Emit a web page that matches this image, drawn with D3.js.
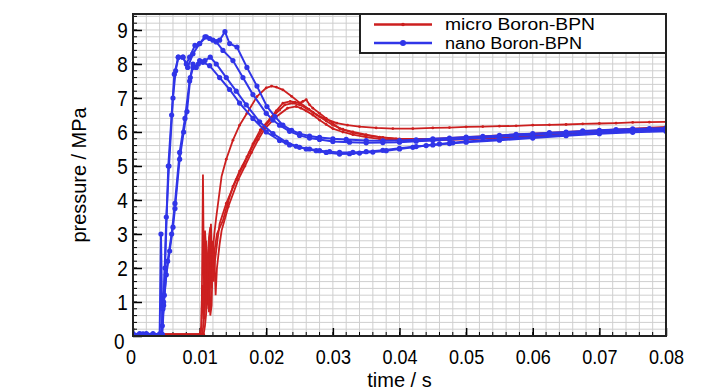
<!DOCTYPE html>
<html><head><meta charset="utf-8">
<script src="https://cdn.jsdelivr.net/npm/d3@7"></script>
<style>body{margin:0;background:#fff}svg{display:block}</style>
</head><body><div id="c"></div>
<script>
// ---- data (time in s, pressure in MPa) ----
const xTicks = [0,0.01,0.02,0.03,0.04,0.05,0.06,0.07,0.08];
const xTickLabels = ["0","0.01","0.02","0.03","0.04","0.05","0.06","0.07","0.08"];
const yTicks = [0,1,2,3,4,5,6,7,8,9];
const seriesNames = ["micro Boron-BPN","nano Boron-BPN"];

const nano1 = [[0,0.06],[0.001,0.05],[0.002,0.07],[0.003,0.05],[0.004,0.06],[0.0042,3.0],[0.0044,0.3],[0.0046,1.0],[0.005,3.5],[0.0054,5.0],[0.006,7.0],[0.0064,7.8],[0.0068,8.2],[0.0075,8.2],[0.008,8.0],[0.0085,8.2],[0.0093,8.55],[0.01,8.6],[0.011,8.8],[0.012,8.7],[0.013,8.7],[0.0138,8.95],[0.0145,8.6],[0.0156,8.5],[0.0171,7.9],[0.0186,7.35],[0.0201,6.75],[0.0213,6.45],[0.0225,6.2],[0.0238,6.05],[0.025,5.95],[0.0265,5.88],[0.028,5.84],[0.03,5.8],[0.032,5.78],[0.035,5.75],[0.0375,5.74],[0.04,5.75],[0.0425,5.77],[0.045,5.8],[0.0475,5.82],[0.05,5.85],[0.0525,5.87],[0.055,5.9],[0.0575,5.93],[0.06,5.95],[0.0625,5.98],[0.065,6.0],[0.0675,6.03],[0.07,6.05],[0.0725,6.07],[0.075,6.09],[0.0775,6.1],[0.08,6.12]];
const nano2 = [[0,0.05],[0.001,0.07],[0.002,0.05],[0.003,0.06],[0.0042,0.05],[0.0045,0.8],[0.0048,2.0],[0.0053,5.0],[0.0058,6.5],[0.0062,7.7],[0.0068,8.2],[0.0075,8.2],[0.0082,7.9],[0.009,8.3],[0.01,8.6],[0.0108,8.8],[0.0115,8.75],[0.0125,8.65],[0.0135,8.4],[0.015,8.1],[0.0165,7.6],[0.018,7.1],[0.02,6.55],[0.021,6.35],[0.022,6.2],[0.0235,6.02],[0.025,5.9],[0.0265,5.82],[0.028,5.78],[0.03,5.72],[0.0325,5.7],[0.035,5.68],[0.0375,5.69],[0.04,5.7],[0.0425,5.73],[0.045,5.75],[0.0475,5.78],[0.05,5.8],[0.0525,5.83],[0.055,5.86],[0.0575,5.89],[0.06,5.92],[0.0625,5.95],[0.065,5.97],[0.0675,6.0],[0.07,6.02],[0.0725,6.04],[0.075,6.06],[0.0775,6.07],[0.08,6.08]];
const nano3 = [[0,0.05],[0.0015,0.06],[0.003,0.05],[0.0043,0.05],[0.0046,0.9],[0.005,1.8],[0.0055,2.5],[0.006,3.2],[0.0063,3.75],[0.007,5.2],[0.0076,6.0],[0.0081,6.6],[0.0086,7.6],[0.009,8.0],[0.0095,7.9],[0.01,8.1],[0.0108,8.1],[0.0116,8.2],[0.0125,8.0],[0.014,7.6],[0.0155,7.2],[0.017,6.8],[0.019,6.3],[0.021,5.95],[0.023,5.7],[0.0245,5.58],[0.026,5.5],[0.0275,5.45],[0.029,5.4],[0.031,5.35],[0.0325,5.36],[0.034,5.38],[0.036,5.41],[0.038,5.45],[0.04,5.5],[0.042,5.55],[0.044,5.6],[0.046,5.65],[0.048,5.68],[0.05,5.72],[0.055,5.79],[0.06,5.85],[0.065,5.92],[0.07,5.98],[0.075,6.02],[0.08,6.05]];
const nano4 = [[0,0.06],[0.0015,0.05],[0.003,0.06],[0.0044,0.05],[0.0047,1.2],[0.0052,2.2],[0.0058,3.0],[0.0063,3.9],[0.007,5.4],[0.0078,6.4],[0.0085,7.5],[0.009,7.9],[0.0098,8.0],[0.0105,8.05],[0.0115,7.95],[0.013,7.6],[0.0145,7.25],[0.016,6.85],[0.018,6.4],[0.02,6.0],[0.022,5.75],[0.0235,5.62],[0.025,5.55],[0.0265,5.5],[0.028,5.45],[0.0295,5.42],[0.031,5.4],[0.033,5.4],[0.035,5.42],[0.0375,5.46],[0.04,5.52],[0.0425,5.57],[0.045,5.62],[0.0475,5.66],[0.05,5.7],[0.055,5.76],[0.06,5.82],[0.065,5.89],[0.07,5.95],[0.075,5.99],[0.08,6.02]];

const micro1 = [[0,0.05],[0.01,0.05],[0.0103,0.3],[0.0105,4.75],[0.0107,0.5],[0.0109,2.6],[0.011,1.2],[0.0112,2.0],[0.0113,0.8],[0.0115,2.4],[0.0117,3.3],[0.0119,1.8],[0.012,2.5],[0.0122,3.0],[0.0125,3.5],[0.0133,4.7],[0.014,5.2],[0.015,5.76],[0.016,6.2],[0.0171,6.55],[0.0186,7.04],[0.02,7.3],[0.0208,7.35],[0.0215,7.32],[0.0225,7.24],[0.0238,7.05],[0.0251,6.85],[0.0264,6.67],[0.0276,6.5],[0.029,6.38],[0.0306,6.26],[0.0322,6.2],[0.034,6.16],[0.0365,6.12],[0.039,6.1],[0.042,6.1],[0.045,6.12],[0.0475,6.13],[0.05,6.15],[0.0525,6.16],[0.055,6.17],[0.0575,6.18],[0.06,6.2],[0.0625,6.21],[0.065,6.22],[0.0675,6.24],[0.07,6.25],[0.0725,6.26],[0.075,6.28],[0.0775,6.29],[0.08,6.3]];
const micro2 = [[0,0.05],[0.0102,0.05],[0.0104,1.5],[0.0106,0.5],[0.0108,3.1],[0.011,2.5],[0.0111,0.9],[0.0113,1.5],[0.0114,2.9],[0.0116,3.2],[0.0118,1.4],[0.012,2.0],[0.0123,2.6],[0.0126,3.0],[0.0135,3.4],[0.0142,3.9],[0.015,4.4],[0.016,4.85],[0.0171,5.27],[0.018,5.65],[0.0191,6.06],[0.0206,6.4],[0.0215,6.62],[0.0225,6.85],[0.0236,6.9],[0.0243,6.88],[0.025,6.85],[0.0255,6.9],[0.026,6.95],[0.0265,6.8],[0.027,6.7],[0.028,6.55],[0.029,6.4],[0.03,6.25],[0.031,6.1],[0.033,5.98],[0.035,5.9],[0.0375,5.84],[0.04,5.8],[0.045,5.8],[0.05,5.85],[0.055,5.9],[0.06,5.95],[0.065,6.0],[0.07,6.05],[0.075,6.1],[0.08,6.15]];
const micro3 = [[0,0.05],[0.0104,0.05],[0.0106,0.4],[0.0108,0.8],[0.011,2.8],[0.0112,2.2],[0.0114,0.7],[0.0115,1.2],[0.0117,2.2],[0.0119,2.8],[0.0121,1.6],[0.0123,2.2],[0.0126,2.7],[0.013,3.3],[0.014,3.9],[0.0155,4.6],[0.0165,5.0],[0.0175,5.4],[0.0185,5.78],[0.0195,6.1],[0.021,6.45],[0.022,6.65],[0.0228,6.8],[0.024,6.85],[0.025,6.8],[0.026,6.7],[0.027,6.58],[0.028,6.45],[0.029,6.32],[0.03,6.2],[0.0315,6.08],[0.033,6.0],[0.035,5.92],[0.037,5.85],[0.0395,5.8],[0.042,5.78],[0.046,5.78],[0.05,5.8],[0.055,5.85],[0.06,5.9],[0.065,5.95],[0.07,6.0],[0.075,6.05],[0.08,6.1]];
const micro4 = [[0,0.05],[0.0106,0.05],[0.0108,0.3],[0.011,0.7],[0.0112,2.3],[0.0115,1.8],[0.0116,0.6],[0.0118,0.9],[0.012,2.6],[0.0122,2.4],[0.0124,1.2],[0.0126,2.0],[0.013,2.7],[0.0133,3.1],[0.0143,3.8],[0.0158,4.6],[0.0168,5.0],[0.0178,5.4],[0.0188,5.78],[0.0198,6.1],[0.0215,6.45],[0.0232,6.7],[0.0245,6.75],[0.0252,6.7],[0.026,6.62],[0.027,6.5],[0.028,6.35],[0.029,6.22],[0.03,6.1],[0.0315,6.0],[0.033,5.92],[0.035,5.85],[0.037,5.8],[0.0395,5.76],[0.042,5.75],[0.046,5.76],[0.05,5.78],[0.055,5.83],[0.06,5.88],[0.065,5.93],[0.07,5.98],[0.075,6.03],[0.08,6.08]];

const microSeries = [micro1, micro2, micro3, micro4];
const nanoSeries = [nano1, nano2, nano3, nano4];

// ---- layout ----
const W = 728, H = 390;
const m = {left:133, right:62, top:14, bottom:54};
const iw = W - m.left - m.right, ih = H - m.top - m.bottom;
const FONT = "'Liberation Sans',Arial,sans-serif";
const RED = "#cc1f1f", BLUE = "#3035e8";

const svg = d3.select("#c").append("svg").attr("width",W).attr("height",H);
const g = svg.append("g").attr("transform",`translate(${m.left},${m.top})`);

const x = d3.scaleLinear().domain([0,0.08]).range([0,iw]);
const y = d3.scaleLinear().domain([0,9.47]).range([ih,0]);

// grid
const xMinor = d3.range(0,0.0801,0.002);
const yMinor = d3.range(0,9.47,0.2);
g.append("g").selectAll("line").data(xMinor).join("line")
  .attr("x1",d=>x(d)).attr("x2",d=>x(d)).attr("y1",0).attr("y2",ih)
  .attr("stroke","#cfcfcf").attr("stroke-width",1);
g.append("g").selectAll("line").data(yMinor).join("line")
  .attr("y1",d=>y(d)).attr("y2",d=>y(d)).attr("x1",0).attr("x2",iw)
  .attr("stroke","#cfcfcf").attr("stroke-width",1);

// axes with inward ticks
const xAxis = d3.axisBottom(x).tickValues(xTicks).tickFormat((d,i)=>xTickLabels[i]).tickSizeInner(-8).tickSizeOuter(0).tickPadding(13);
const xAx = g.append("g").attr("transform",`translate(0,${ih})`).call(xAxis);
xAx.select(".domain").remove();
xAx.selectAll("line").attr("stroke","#000").attr("stroke-width",1.5);
xAx.selectAll("text").attr("font-family",FONT).attr("font-size",21).attr("fill","#000")
  .attr("transform","scale(0.86,1)");
xAx.selectAll(".tick").filter(d=>d===0).select("text").attr("x",-3);
g.append("g").selectAll("line").data(xMinor).join("line")
  .attr("x1",d=>x(d)).attr("x2",d=>x(d)).attr("y1",ih).attr("y2",ih-4).attr("stroke","#000");

const yAxis = d3.axisLeft(y).tickValues(yTicks).tickFormat(d3.format("d")).tickSizeInner(-9).tickSizeOuter(0).tickPadding(6);
const yAx = g.append("g").call(yAxis);
yAx.select(".domain").remove();
yAx.selectAll("line").attr("stroke","#000").attr("stroke-width",1.5);
yAx.selectAll("text").attr("font-family",FONT).attr("font-size",22).attr("fill","#000")
  .attr("transform","scale(0.86,1)");
yAx.selectAll(".tick").filter(d=>d===0).select("text").attr("dy","0.55em").attr("x",-10);
g.append("g").selectAll("line").data(yMinor).join("line")
  .attr("y1",d=>y(d)).attr("y2",d=>y(d)).attr("x1",0).attr("x2",4).attr("stroke","#000");

// curves
const line = d3.line().x(d=>x(d[0])).y(d=>y(d[1]));
svg.append("clipPath").attr("id","cp").append("rect").attr("width",iw).attr("height",ih+4).attr("y",-2);
const curves = g.append("g").attr("clip-path","url(#cp)");
microSeries.forEach(s=>{
  curves.append("path").datum(s).attr("d",line).attr("fill","none").attr("stroke",RED).attr("stroke-width",1.8);
  curves.append("g").selectAll("circle").data(s.filter(d=>d[0]>0.0135 || d[1]<0.1)).join("circle")
    .attr("cx",d=>x(d[0])).attr("cy",d=>y(d[1])).attr("r",1.4).attr("fill",RED);
});
nanoSeries.forEach(s=>{
  curves.append("path").datum(s).attr("d",line).attr("fill","none").attr("stroke",BLUE).attr("stroke-width",2);
  curves.append("g").selectAll("circle").data(s).join("circle")
    .attr("cx",d=>x(d[0])).attr("cy",d=>y(d[1])).attr("r",2.6).attr("fill",BLUE);
});

// frame
g.append("rect").attr("width",iw).attr("height",ih).attr("fill","none").attr("stroke","#222").attr("stroke-width",2);

// legend
const lx = 360 - m.left;
const lg = g.append("g").attr("transform",`translate(${lx},0)`);
lg.append("rect").attr("width",iw-lx).attr("height",39).attr("fill","#fff").attr("stroke","#222").attr("stroke-width",2);
[[RED,10.5],[BLUE,29]].forEach(([c,yy],i)=>{
  lg.append("line").attr("x1",14).attr("x2",72).attr("y1",yy).attr("y2",yy).attr("stroke",c).attr("stroke-width",2.5);
  lg.append("circle").attr("cx",43).attr("cy",yy).attr("r",i?3:1.8).attr("fill",c);
  lg.append("text").attr("x",85).attr("y",yy).attr("dy","0.35em").attr("font-family",FONT).attr("font-size",16)
    .attr("textLength",i?137:150).attr("lengthAdjust","spacingAndGlyphs").text(seriesNames[i]);
});

// axis titles
svg.append("text").attr("x",m.left+iw/2).attr("y",387).attr("text-anchor","middle")
  .attr("font-family",FONT).attr("font-size",20).text("time / s");
svg.append("text").attr("transform",`translate(86,${m.top+ih/2}) rotate(-90)`).attr("text-anchor","middle")
  .attr("font-family",FONT).attr("font-size",21).attr("textLength",135).attr("lengthAdjust","spacingAndGlyphs").text("pressure / MPa");
</script></body></html>
